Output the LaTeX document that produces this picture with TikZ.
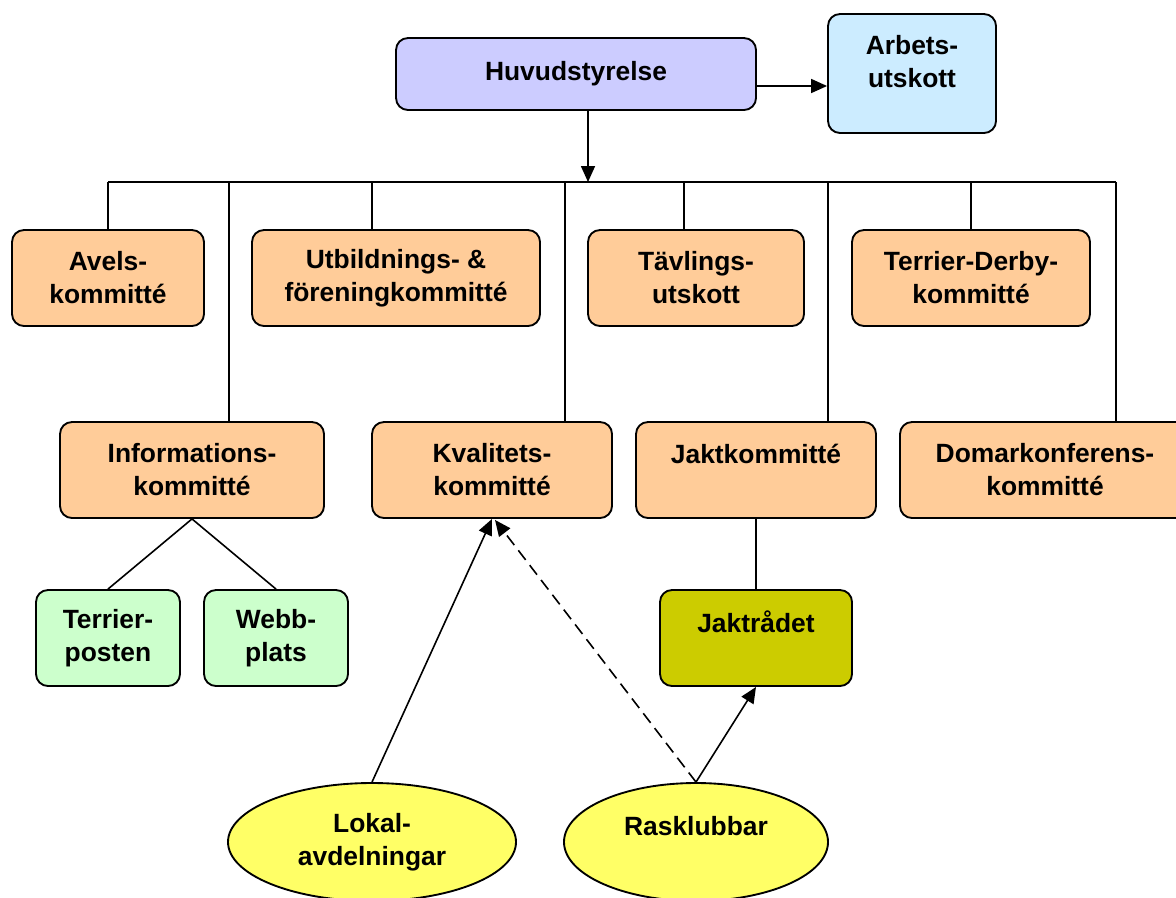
\documentclass[tikz,border=0pt]{standalone}
\usepackage{fontspec}
\setmainfont{Liberation Sans}
\usetikzlibrary{arrows.meta,shapes.geometric,calc}
\definecolor{cHuv}{HTML}{CCCCFF}
\definecolor{cArb}{HTML}{CCECFF}
\definecolor{cOr}{HTML}{FFCC99}
\definecolor{cGr}{HTML}{CCFFCC}
\definecolor{cJr}{HTML}{CCCC00}
\definecolor{cEl}{HTML}{FFFF66}
\tikzset{
  base/.style={draw=black, line width=1.4pt, inner sep=0pt, align=center,
    font=\bfseries\fontsize{19.8pt}{24.75pt}\selectfont},
  rbox/.style={base, rectangle, rounded corners=9pt},
  obox/.style={rbox, fill=cOr, minimum height=72pt},
  gbox/.style={rbox, fill=cGr, minimum height=72pt, minimum width=108pt},
  ell/.style={base, ellipse, fill=cEl, minimum height=88.5pt},
  conn/.style={line width=1.2pt},
  arr/.style={conn, -{Triangle[length=12pt,width=10.5pt]}},
}
\begin{document}
\begin{tikzpicture}[x=0.75pt,y=-0.75pt]
\useasboundingbox (0,0) rectangle (1176,897);
% boxes
\node[rbox, fill=cHuv, minimum width=270pt, minimum height=54pt] (huv) at (576,74) {Huvudstyrelse};
\node[rbox, fill=cArb, minimum width=126pt, minimum height=89.25pt] (arb) at (912,73.5) {Arbets-\\utskott\\[-6.75pt]\phantom{k}};
\node[obox, minimum width=144pt] (avels) at (108,278) {Avels-\\kommitté};
\node[obox, minimum width=216pt] (utb) at (396,278) {Utbildnings- \&\\föreningkommitté};
\node[obox, minimum width=162pt] (tav) at (696,278) {Tävlings-\\utskott};
\node[obox, minimum width=178.5pt] (td) at (971,278) {Terrier-Derby-\\kommitté};
\node[obox, minimum width=198pt] (info) at (192,470) {Informations-\\kommitté};
\node[obox, minimum width=180pt] (kval) at (492,470) {Kvalitets-\\kommitté};
\node[obox, minimum width=180pt] (jakt) at (756,470) {Jaktkommitté\\\phantom{k}};
\node[obox, minimum width=217.5pt] (domar) at (1045,470) {Domarkonferens-\\kommitté};
\node[gbox] (tp) at (108,638) {Terrier-\\posten};
\node[gbox] (wp) at (276,638) {Webb-\\plats};
\node[rbox, fill=cJr, minimum width=144pt, minimum height=72pt] (jr) at (756,638) {Jaktrådet\\\phantom{k}};
\node[ell, minimum width=216pt] (lok) at (372,842) {Lokal-\\avdelningar};
\node[ell, minimum width=198pt] (ras) at (696,842) {Rasklubbar\\\phantom{k}};
% bus
\coordinate (ha) at ($(huv.east)+(0,12)$);
\coordinate (busc) at (588,182);
\coordinate (busL) at (108,182);
\coordinate (busR) at (1116,182);
\coordinate (dI) at (229,182);
\coordinate (dU) at (372,182);
\coordinate (dK) at (565,182);
\coordinate (dT) at (684,182);
\coordinate (dJ) at (828,182);
\coordinate (dD) at (1116,182);
\coordinate (kv2) at ($(kval.south)+(3,1)$);
\draw[arr] (ha) -- (ha -| arb.west);
\draw[arr] (huv.south -| busc) -- (busc);
\draw[conn] (busL) -- (busR);
\draw[conn] (avels.north) -- (avels.north |- busL);
\draw[conn] (dI) -- (dI |- info.north);
\draw[conn] (dU) -- (dU |- utb.north);
\draw[conn] (dK) -- (dK |- kval.north);
\draw[conn] (dT) -- (dT |- tav.north);
\draw[conn] (dJ) -- (dJ |- jakt.north);
\draw[conn] (td.north) -- (td.north |- busL);
\draw[conn] (dD) -- (dD |- domar.north);
% lower connectors
\draw[conn] (tp.north) -- (info.south) -- (wp.north);
\draw[conn] (jakt.south) -- (jr.north);
\draw[arr] (lok.north) -- (kval.south);
\draw[arr, dash pattern=on 9pt off 5pt] (ras.north) -- (kv2);
\draw[arr] (ras.north) -- (jr.south);
\end{tikzpicture}
\end{document}
